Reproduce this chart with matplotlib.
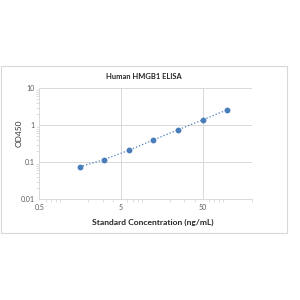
import matplotlib.pyplot as plt
from matplotlib.patches import Rectangle
from matplotlib.ticker import FixedLocator, NullFormatter, LogLocator

# standard curve values
conc = [1.5625, 3.125, 6.25, 12.5, 25, 50, 100]
od450 = [0.075, 0.118, 0.21, 0.40, 0.75, 1.39, 2.6]
xticks = [0.5, 5, 50]
xtick_labels = ['0.5', '5', '50']
yticks = [0.01, 0.1, 1, 10]
ytick_labels = ['0.01', '0.1', '1', '10']

plt.rcParams['font.family'] = ['Lato', 'DejaVu Sans']

fig = plt.figure(figsize=(3, 3), dpi=100)
fig.patch.set_facecolor('white')

# chart frame like the Excel chart area
fig.patches.append(Rectangle((0.004, 0.223), 0.953, 0.558, transform=fig.transFigure,
                             fill=False, edgecolor='#d9d9d9', linewidth=0.8))

ax = fig.add_axes([0.131, 0.336, 0.708, 0.370])
blue = '#4a7ebb'
ax.plot(conc, od450, linestyle=':', color=blue, linewidth=0.9)
ax.plot(conc, od450, linestyle='none', marker='o', markersize=3.2, color=blue)

ax.set_xscale('log')
ax.set_yscale('log')
ax.set_xlim(0.5, 200)
ax.set_ylim(0.01, 10)

ax.xaxis.set_major_locator(FixedLocator(xticks))
ax.set_xticklabels(xtick_labels)
ax.yaxis.set_major_locator(FixedLocator(yticks))
ax.set_yticklabels(ytick_labels)
ax.xaxis.set_minor_locator(LogLocator(base=10, subs=range(2, 10)))
ax.yaxis.set_minor_locator(LogLocator(base=10, subs=range(2, 10)))
ax.xaxis.set_minor_formatter(NullFormatter())
ax.yaxis.set_minor_formatter(NullFormatter())

ax.grid(True, which='major', color='#d9d9d9', linewidth=0.7)
for s in ['top', 'right']:
    ax.spines[s].set_visible(False)
for s in ['left', 'bottom']:
    ax.spines[s].set_color('#d9d9d9')
    ax.spines[s].set_linewidth(0.7)
ax.tick_params(which='both', colors='#d9d9d9', labelcolor='#595959', labelsize=5)
ax.tick_params(which='major', length=0, pad=3.5)
ax.tick_params(which='minor', length=2)

fig.text(0.479, 0.746, 'Human HMGB1 ELISA', ha='center', va='center',
         fontsize=5.4, fontweight='bold', color='#262626')
fig.text(0.511, 0.258, 'Standard Concentration (ng/mL)', ha='center', va='center',
         fontsize=6.1, fontweight='bold', color='#262626')
fig.text(0.063, 0.557, 'OD450', ha='center', va='center', rotation=90,
         fontsize=6.0, color='#333333')

fig.savefig('out.png', dpi=100)
